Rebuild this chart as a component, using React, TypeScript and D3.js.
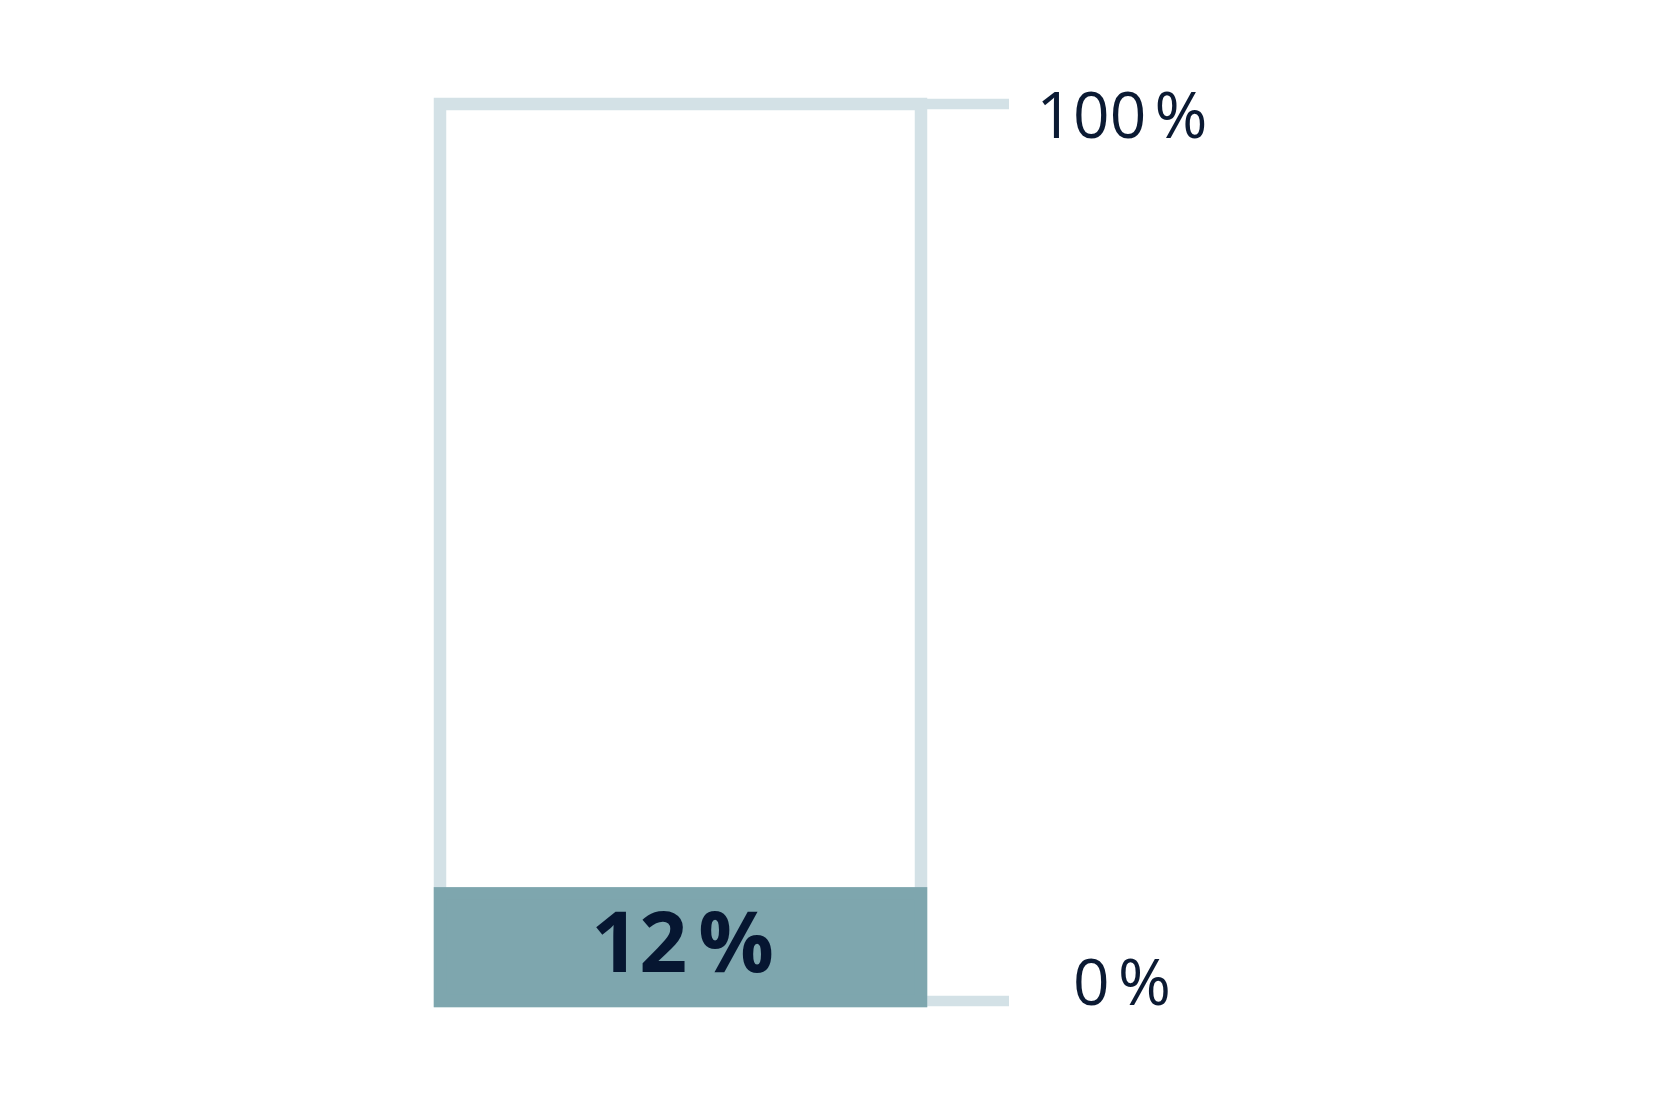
import { useEffect, useRef } from 'react';
import * as d3 from 'd3';

// share shown inside the gauge
const shares = [12];
const shareLabels = ['12\u202F%'];
// scale ends on the right
const tickValues = [0, 100];
const tickLabels = ['0\u202F%', '100\u202F%'];

export default function App() {
  const svgRef = useRef<SVGSVGElement>(null);

  useEffect(() => {
    if (!svgRef.current) return;
    const svg = d3.select(svgRef.current);
    svg.selectAll('*').remove();

    const width = 1668;
    const height = 1119;
    const frameLeft = 440;
    const frameRight = 921;
    const stroke = 12.5;

    const y = d3.scaleLinear().domain([0, 100]).range([1001, 104]);

    svg.attr('width', width).attr('height', height);

    // outline of the full 100 % column
    svg.append('rect')
      .attr('x', frameLeft)
      .attr('y', y(100))
      .attr('width', frameRight - frameLeft)
      .attr('height', y(0) - y(100))
      .attr('fill', 'none')
      .attr('stroke', '#d3e1e6')
      .attr('stroke-width', stroke);

    // tick marks to the right
    svg.append('g')
      .selectAll('line')
      .data(tickValues)
      .enter()
      .append('line')
      .attr('x1', frameRight)
      .attr('x2', 1009)
      .attr('y1', d => y(d))
      .attr('y2', d => y(d))
      .attr('stroke', '#d3e1e6')
      .attr('stroke-width', 10.5);

    svg.append('g')
      .selectAll('text')
      .data(tickValues)
      .enter()
      .append('text')
      .attr('x', 1122)
      .attr('y', d => y(d) + (d === 0 ? 4 : 34))
      .attr('text-anchor', 'middle')
      .attr('font-family', 'Open Sans, sans-serif')
      .attr('font-size', 64)
      .attr('fill', '#0b1a33')
      .text((d, i) => tickLabels[i]);

    // filled share
    svg.append('g')
      .selectAll('rect')
      .data(shares)
      .enter()
      .append('rect')
      .attr('x', frameLeft)
      .attr('y', d => y(d))
      .attr('width', frameRight - frameLeft)
      .attr('height', d => y(0) - y(d))
      .attr('fill', '#7ea6ae')
      .attr('stroke', '#7ea6ae')
      .attr('stroke-width', stroke);

    svg.append('g')
      .selectAll('text')
      .data(shares)
      .enter()
      .append('text')
      .attr('x', (frameLeft + frameRight) / 2 + 2)
      .attr('y', 972)
      .attr('text-anchor', 'middle')
      .attr('font-family', 'Open Sans, sans-serif')
      .attr('font-weight', 700)
      .attr('font-size', 84)
      .attr('fill', '#061631')
      .text((d, i) => shareLabels[i]);
  }, []);

  return (
    <svg
      ref={svgRef}
      style={{ position: 'absolute', left: 0, top: 0, background: '#fff' }}
    />
  );
}
